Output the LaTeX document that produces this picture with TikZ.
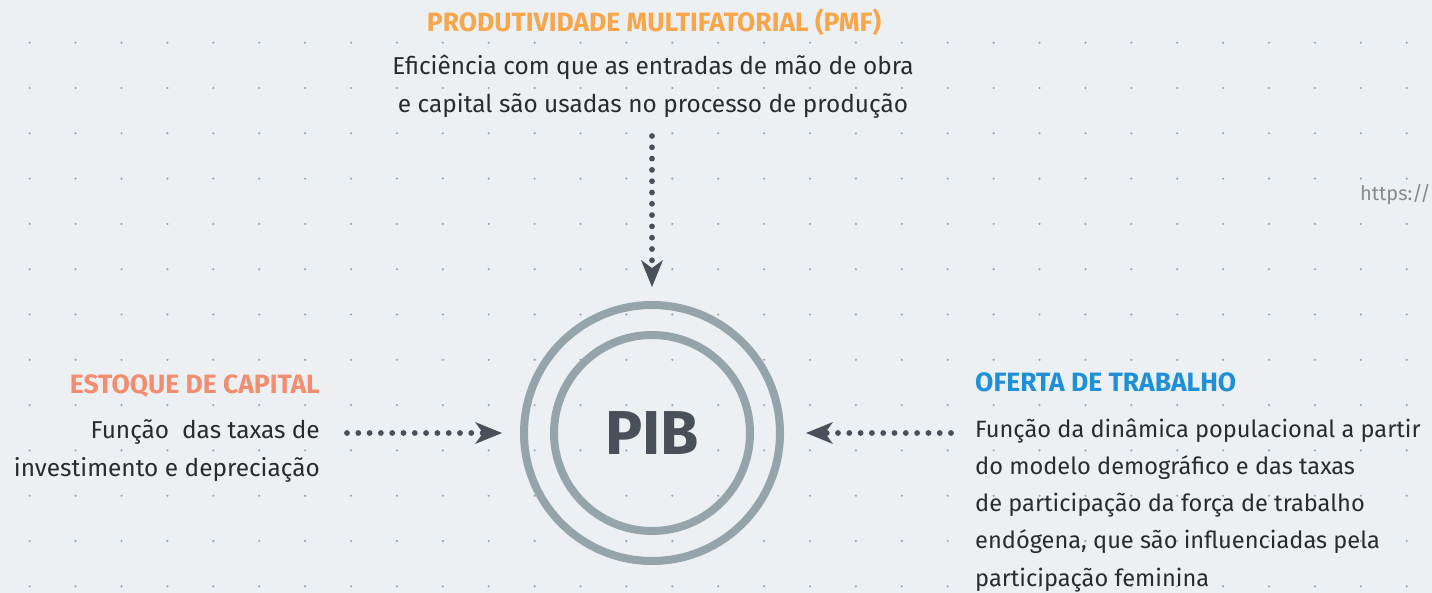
\documentclass[tikz,border=0pt]{standalone}
\usepackage{fontspec}
\setmainfont{Fira Sans}
\usetikzlibrary{positioning,arrows.meta}

\definecolor{bgcol}{HTML}{ECF0F3}
\definecolor{griddot}{HTML}{9CA3AA}
\definecolor{pmfcol}{HTML}{F8A64B}
\definecolor{capcol}{HTML}{F28D6F}
\definecolor{trabcol}{HTML}{2090D6}
\definecolor{textcol}{HTML}{2B2B2B}
\definecolor{darkgrey}{HTML}{4A5059}
\definecolor{ringcol}{HTML}{95A4AB}
\definecolor{urlcol}{HTML}{8A8A8A}

\tikzset{
  headline/.style={font=\fontsize{26.5}{30}\selectfont\bfseries, inner sep=0pt},
  bodytext/.style={font=\fontsize{24.4}{37.2}\selectfont, text=textcol, inner sep=0pt},
  ring/.style={circle, draw=ringcol, line width=8pt, outer sep=0pt, inner sep=0pt},
  flow/.style={draw=darkgrey, line width=5.8pt, line cap=round,
    dash pattern=on 0pt off 11.3pt,
    -{Stealth[length=27pt,width=22pt,inset=8pt,line width=0pt]}}
}

\begin{document}
\begin{tikzpicture}[x=1pt,y=-1pt]
        \fill[bgcol] (0,0) rectangle (1432,593);
        \useasboundingbox (0,0) rectangle (1432,593);
        % dot grid
        \foreach \i in {0,...,30}
          \foreach \j in {0,...,12}
            \fill[griddot] (29.7+45.9*\i,42.7+45.3*\j) circle (1.2pt);
        % centre
        \node[ring, minimum size=256pt] (pib) at (652,433) {};
        \node[ring, minimum size=196pt] (pibin) at (pib.center) {};
        \node[font=\fontsize{62}{62}\selectfont\bfseries, text=darkgrey] (pibtext) at (pib.center) {PIB};
        % top (base = last line)
        \node[headline, text=pmfcol, anchor=base] (pmftitle) at (654,31.7) {PRODUTIVIDADE MULTIFATORIAL (PMF)};
        \node[bodytext, align=center, anchor=base] (pmftext) at (653,112.2) {Eficiência com que as entradas de mão de obra\\e capital são usadas no processo de produção};
        % left
        \node[headline, text=capcol, anchor=base east] (captitle) at (320,393) {ESTOQUE DE CAPITAL};
        \node[bodytext, align=right, anchor=base east] (captext) at (320,476) {Função~ das taxas de\\investimento e depreciação};
        % right
        \node[headline, text=trabcol, anchor=base west] (trabtitle) at (975,391.7) {OFERTA DE TRABALHO};
        \node[bodytext, font=\fontsize{23.6}{37.2}\selectfont, align=left, anchor=base west] (trabtext) at (975,586) {Função da dinâmica populacional a partir\\do modelo demográfico e das taxas\\de participação da força de trabalho\\endógena, que são influenciadas pela\\participação feminina};
        \node[font=\fontsize{20}{22}\selectfont, text=urlcol, anchor=base west, inner sep=0pt] (url) at (1360,201) {https://};
        % arrows
        \coordinate (pmfstart) at (652,136);
        \coordinate (capstart) at (347,433);
        \coordinate (trabstart) at (951,433);
        \draw[flow, shorten >=18pt] (pmfstart) -- (pib);
        \draw[flow, shorten >=22pt] (capstart) -- (pib);
        \draw[flow, shorten >=26pt] (trabstart) -- (pib);
    \end{tikzpicture}
\end{document}
